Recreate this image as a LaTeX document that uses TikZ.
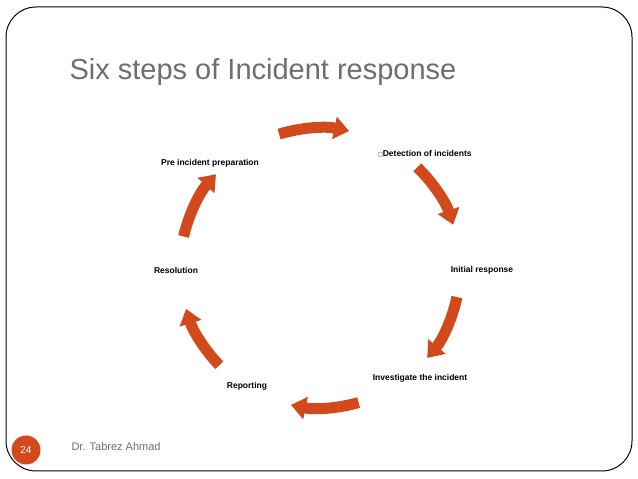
\documentclass[tikz,border=0pt]{standalone}
\usepackage{fontspec}
\setmainfont{Liberation Sans}
\usetikzlibrary{arrows.meta}
\definecolor{arr}{HTML}{D24A1C}
\definecolor{tgray}{HTML}{6E6E6E}
\begin{document}
\begin{tikzpicture}[x=1pt,y=1pt,
  cyclearrow/.style={arr,line width=11pt,-{Triangle[length=15pt,width=22pt]}},
  lab/.style={font=\fontsize{8.5}{10}\selectfont\bfseries,inner sep=0pt}]
\useasboundingbox (0,0) rectangle (638,479);
\draw[line width=1pt,rounded corners=30pt] (6,8) rectangle (632,472);
\node[tgray,font=\fontsize{29}{34}\selectfont,anchor=west] (title) at (66,407) {Six steps of Incident response};
\def\cx{320}\def\cy{211}\def\rr{140}
\foreach \a/\b in {107/78, 46/18, -12/-40, -74/-102, -136/-163, 167/138}
  \draw[cyclearrow] ({\cx+\rr*cos(\a)},{\cy+\rr*sin(\a)}) arc[start angle=\a,end angle=\b,radius=\rr];
\node[lab] (pre) at (210,316) {Pre incident preparation};
\node[lab] (det) at (425,326) {\tikz\draw[lightgray,line width=0.4pt] (0,0) rectangle (4pt,4pt);Detection of incidents};
\node[lab] (ini) at (482,209) {Initial response};
\node[lab] (inv) at (420,101) {Investigate the incident};
\node[lab] (rep) at (247,93) {Reporting};
\node[lab] (res) at (176,209) {Resolution};
\node[circle,fill=arr,minimum size=29pt,inner sep=0pt,text=white,font=\fontsize{10}{12}\selectfont] (num) at (26,29) {24};
\node[tgray,anchor=west,font=\fontsize{11}{13}\selectfont] (foot) at (68,32) {Dr. Tabrez Ahmad};
\end{tikzpicture}
\end{document}
